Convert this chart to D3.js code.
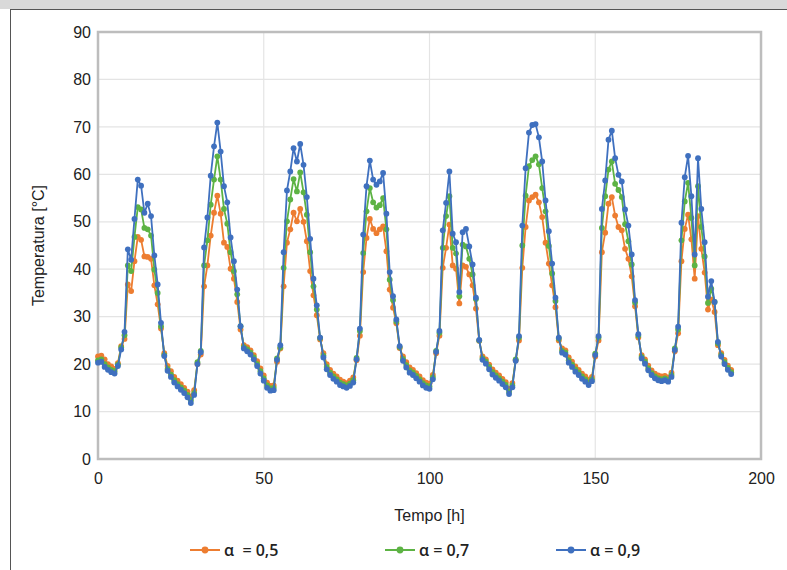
<!DOCTYPE html>
<html>
<head>
<meta charset="utf-8">
<script src="https://cdn.jsdelivr.net/npm/d3@7"></script>
<style>
  body { margin: 0; background: #fff; }
  svg { display: block; }
</style>
</head>
<body>
<div id="chart"></div>
<script>
// hours 0..191, one reading per hour
var hours = d3.range(0, 192);

var alpha05 = [
  21.6, 21.8, 21.0, 20.0, 19.5, 19.0, 20.2, 23.8, 25.3, 36.8, 35.4, 41.7, 46.8, 46.2, 42.7, 42.6, 42.2, 36.6, 32.6, 27.5, 22.3, 19.6, 18.5, 17.3,
  16.5, 15.8, 15.0, 14.2, 13.2, 14.5, 20.0, 22.0, 36.4, 40.8, 47.1, 51.9, 55.5, 51.7, 45.6, 44.7, 40.1, 38.0, 33.1, 27.3, 24.0, 23.6, 22.9, 21.9,
  20.6, 19.1, 17.6, 16.1, 15.4, 15.5, 20.5, 23.3, 36.4, 45.6, 48.4, 51.9, 50.1, 52.7, 50.0, 45.9, 39.6, 34.5, 30.3, 25.2, 22.3, 20.0, 18.8, 18.0,
  17.4, 16.7, 16.3, 16.0, 16.5, 17.2, 20.8, 26.0, 39.4, 46.6, 50.6, 48.5, 47.6, 48.4, 49.0, 43.8, 35.7, 31.9, 28.6, 23.4, 21.6, 20.4, 19.3, 18.8,
  18.1, 17.4, 16.6, 16.1, 15.9, 17.7, 22.3, 26.0, 40.3, 44.5, 49.4, 40.8, 40.1, 32.8, 40.8, 40.5, 38.9, 36.6, 31.7, 24.9, 21.6, 21.0, 19.9, 18.9,
  18.2, 17.6, 16.9, 16.2, 14.8, 16.0, 20.8, 25.0, 40.3, 48.9, 54.5, 55.2, 55.7, 54.1, 51.0, 45.6, 41.2, 36.6, 32.0, 25.0, 23.3, 22.9, 21.4, 20.5,
  19.5, 18.8, 18.0, 17.4, 16.7, 17.3, 21.6, 25.0, 43.6, 47.7, 53.8, 55.2, 51.3, 48.9, 48.2, 44.3, 42.2, 38.5, 32.2, 25.6, 21.9, 21.0, 19.7, 18.7,
  18.0, 17.6, 17.4, 17.5, 17.2, 18.2, 22.7, 26.5, 41.7, 48.5, 51.5, 46.3, 38.0, 51.2, 44.3, 39.3, 31.5, 33.6, 31.0, 24.0, 22.3, 20.9, 19.7, 18.8
];

var alpha07 = [
  20.8, 21.0, 20.0, 19.3, 18.8, 18.5, 19.9, 23.5, 26.1, 40.8, 39.6, 46.8, 53.1, 52.6, 48.7, 48.4, 47.1, 39.9, 35.0, 28.0, 21.9, 19.0, 17.8, 16.6,
  15.8, 15.1, 14.4, 13.5, 12.4, 13.9, 20.4, 22.8, 40.8, 46.1, 53.6, 58.9, 63.8, 58.9, 52.7, 49.6, 43.6, 39.6, 34.7, 28.0, 23.6, 23.1, 22.4, 21.4,
  20.0, 18.5, 17.0, 15.5, 14.9, 15.0, 21.2, 23.5, 40.3, 50.1, 54.7, 59.0, 56.4, 60.4, 56.2, 51.5, 43.6, 36.4, 31.5, 25.5, 21.8, 19.4, 18.2, 17.4,
  16.8, 16.1, 15.8, 15.5, 15.9, 16.6, 21.3, 27.0, 43.4, 52.2, 57.1, 54.1, 53.0, 53.5, 55.0, 48.4, 37.8, 33.5, 29.0, 23.6, 21.1, 19.8, 18.7, 18.2,
  17.5, 16.8, 16.0, 15.5, 15.3, 17.2, 22.8, 26.6, 44.5, 51.2, 55.4, 44.5, 43.3, 34.3, 45.2, 44.8, 42.2, 38.9, 33.7, 25.0, 21.2, 20.5, 19.4, 18.3,
  17.6, 17.0, 16.3, 15.6, 14.2, 15.5, 21.0, 25.6, 45.0, 55.5, 61.7, 63.0, 63.8, 62.1, 57.1, 52.2, 44.9, 39.1, 33.3, 25.4, 22.8, 22.4, 20.8, 19.9,
  18.9, 18.2, 17.4, 16.8, 16.1, 16.8, 22.2, 25.6, 48.7, 55.4, 61.0, 62.7, 58.0, 56.7, 55.2, 49.5, 45.9, 41.0, 33.0, 26.0, 21.5, 20.5, 19.1, 18.1,
  17.4, 17.0, 16.8, 17.0, 16.7, 17.7, 23.3, 27.3, 46.1, 54.3, 58.2, 50.8, 40.8, 57.5, 48.9, 42.7, 32.9, 35.9, 33.1, 24.4, 21.9, 20.4, 19.2, 18.3
];

var alpha09 = [
  20.3, 20.5, 19.4, 18.8, 18.3, 18.0, 19.6, 23.1, 26.8, 44.2, 42.0, 50.6, 58.9, 57.6, 51.9, 53.8, 51.2, 42.9, 36.8, 28.7, 21.7, 18.6, 17.3, 16.1,
  15.3, 14.6, 13.9, 13.0, 11.8, 13.5, 20.0, 22.5, 44.6, 50.9, 59.7, 65.9, 70.9, 64.8, 57.5, 54.1, 46.7, 41.7, 35.7, 28.0, 23.3, 22.7, 22.0, 21.0,
  19.6, 18.0, 16.5, 15.0, 14.4, 14.5, 20.9, 24.0, 43.6, 56.6, 60.6, 65.5, 62.7, 66.4, 62.0, 55.2, 46.4, 38.0, 32.4, 25.6, 21.4, 18.9, 17.7, 16.9,
  16.3, 15.6, 15.3, 15.0, 15.4, 16.1, 21.0, 27.5, 47.3, 57.5, 62.9, 58.9, 57.8, 58.5, 60.3, 51.7, 39.4, 34.3, 29.4, 23.8, 20.7, 19.3, 18.2, 17.7,
  17.0, 16.3, 15.5, 15.0, 14.8, 16.8, 22.6, 27.0, 48.2, 54.0, 60.6, 47.5, 45.7, 35.2, 47.8, 48.5, 44.8, 41.0, 34.0, 25.1, 20.9, 20.1, 18.9, 17.8,
  17.1, 16.5, 15.8, 15.1, 13.7, 15.1, 20.7, 25.9, 49.2, 61.3, 68.8, 70.4, 70.6, 67.8, 62.7, 54.5, 48.0, 41.2, 34.0, 25.6, 22.4, 22.0, 20.3, 19.4,
  18.4, 17.7, 16.9, 16.3, 15.6, 16.4, 21.9, 25.9, 52.7, 58.7, 67.3, 69.2, 63.4, 59.9, 58.5, 52.6, 49.2, 43.1, 33.5, 26.3, 21.2, 20.1, 18.7, 17.7,
  17.0, 16.6, 16.4, 16.6, 16.3, 17.3, 23.0, 27.9, 49.8, 59.4, 63.9, 55.4, 43.1, 63.4, 52.7, 45.7, 34.2, 37.5, 33.1, 24.7, 21.6, 20.0, 18.8, 17.9
];

var seriesNames = ["α  = 0,5", "α = 0,7", "α = 0,9"];
var seriesColors = ["#ED7D31", "#5DB344", "#3F70BF"];
var xTicks = [0, 50, 100, 150, 200];
var yTicks = [0, 10, 20, 30, 40, 50, 60, 70, 80, 90];

var W = 787, H = 570;
var margin = { top: 32, right: 26, bottom: 111, left: 98 },
    width = 761 - margin.left,
    height = 459 - margin.top;

var svg = d3.select("#chart").append("svg")
    .attr("width", W)
    .attr("height", H);

// window frame: grey top band and dark borders
svg.append("rect").attr("x", 0).attr("y", 0).attr("width", W).attr("height", 9).attr("fill", "#d9d9d9");
svg.append("line").attr("x1", 10).attr("x2", W).attr("y1", 9.5).attr("y2", 9.5).attr("stroke", "#555").attr("stroke-width", 1);
svg.append("line").attr("x1", 10.5).attr("x2", 10.5).attr("y1", 9).attr("y2", H).attr("stroke", "#555").attr("stroke-width", 1);

var g = svg.append("g")
    .attr("transform", "translate(" + margin.left + "," + margin.top + ")");

var x = d3.scaleLinear().domain([0, 200]).range([0, width]);
var y = d3.scaleLinear().domain([0, 90]).range([height, 0]);

// gridlines
g.append("g")
    .selectAll("line.hgrid")
    .data(yTicks)
    .enter().append("line")
    .attr("class", "hgrid")
    .attr("x1", 0).attr("x2", width)
    .attr("y1", function (d) { return y(d); })
    .attr("y2", function (d) { return y(d); })
    .attr("stroke", "#e4e4e4").attr("stroke-width", 1.2);

g.append("g")
    .selectAll("line.vgrid")
    .data(xTicks)
    .enter().append("line")
    .attr("class", "vgrid")
    .attr("x1", function (d) { return x(d); })
    .attr("x2", function (d) { return x(d); })
    .attr("y1", 0).attr("y2", height)
    .attr("stroke", "#e4e4e4").attr("stroke-width", 1.2);

// plot frame
g.append("rect")
    .attr("x", 0).attr("y", 0)
    .attr("width", width).attr("height", height)
    .attr("fill", "none")
    .attr("stroke", "#bdbdbd").attr("stroke-width", 2.5);

// axes (labels only)
var xAxis = d3.axisBottom(x).tickValues(xTicks).tickSize(0).tickPadding(14);
var yAxis = d3.axisLeft(y).tickValues(yTicks).tickSize(0).tickPadding(7);

var gx = g.append("g").attr("transform", "translate(0," + height + ")").call(xAxis);
var gy = g.append("g").call(yAxis);
[gx, gy].forEach(function (a) {
    a.select(".domain").remove();
    a.selectAll("text")
        .attr("fill", "#222")
        .style("font-family", "'Liberation Sans', Arial, sans-serif")
        .style("font-size", "16px");
});

// axis titles
g.append("text")
    .attr("x", width / 2).attr("y", height + 62)
    .attr("text-anchor", "middle")
    .style("font-family", "'Liberation Sans', Arial, sans-serif")
    .style("font-size", "16px").attr("fill", "#222")
    .text("Tempo [h]");

g.append("text")
    .attr("transform", "translate(" + (-54) + "," + (height / 2) + ") rotate(-90)")
    .attr("text-anchor", "middle")
    .style("font-family", "'Liberation Sans', Arial, sans-serif")
    .style("font-size", "16px").attr("fill", "#222")
    .text("Temperatura [°C]");

// series
var allSeries = [alpha05, alpha07, alpha09];
var line = d3.line()
    .x(function (d, i) { return x(hours[i]); })
    .y(function (d) { return y(d); });

allSeries.forEach(function (vals, s) {
    var sg = g.append("g").attr("class", "series-" + s);
    sg.append("path")
        .datum(vals)
        .attr("d", line)
        .attr("fill", "none")
        .attr("stroke", seriesColors[s])
        .attr("stroke-width", 1.8);
    sg.selectAll("circle")
        .data(vals)
        .enter().append("circle")
        .attr("cx", function (d, i) { return x(hours[i]); })
        .attr("cy", function (d) { return y(d); })
        .attr("r", 2.9)
        .attr("fill", seriesColors[s]);
});

// legend
var legendX = [190, 385, 556];
var legend = svg.append("g").attr("transform", "translate(0,550)");
seriesNames.forEach(function (name, s) {
    var lg = legend.append("g").attr("transform", "translate(" + legendX[s] + ",0)");
    lg.append("line").attr("x1", 0).attr("x2", 30).attr("y1", 0).attr("y2", 0)
        .attr("stroke", seriesColors[s]).attr("stroke-width", 2);
    lg.append("circle").attr("cx", 15).attr("cy", 0).attr("r", 3.4).attr("fill", seriesColors[s]);
    lg.append("text")
        .attr("x", 34).attr("y", 6)
        .style("font-family", "'Open Sans', sans-serif")
        .style("font-size", "16px").style("font-weight", "600")
        .attr("fill", "#222")
        .attr("xml:space", "preserve")
        .style("white-space", "pre")
        .text(name);
});
</script>
</body>
</html>
